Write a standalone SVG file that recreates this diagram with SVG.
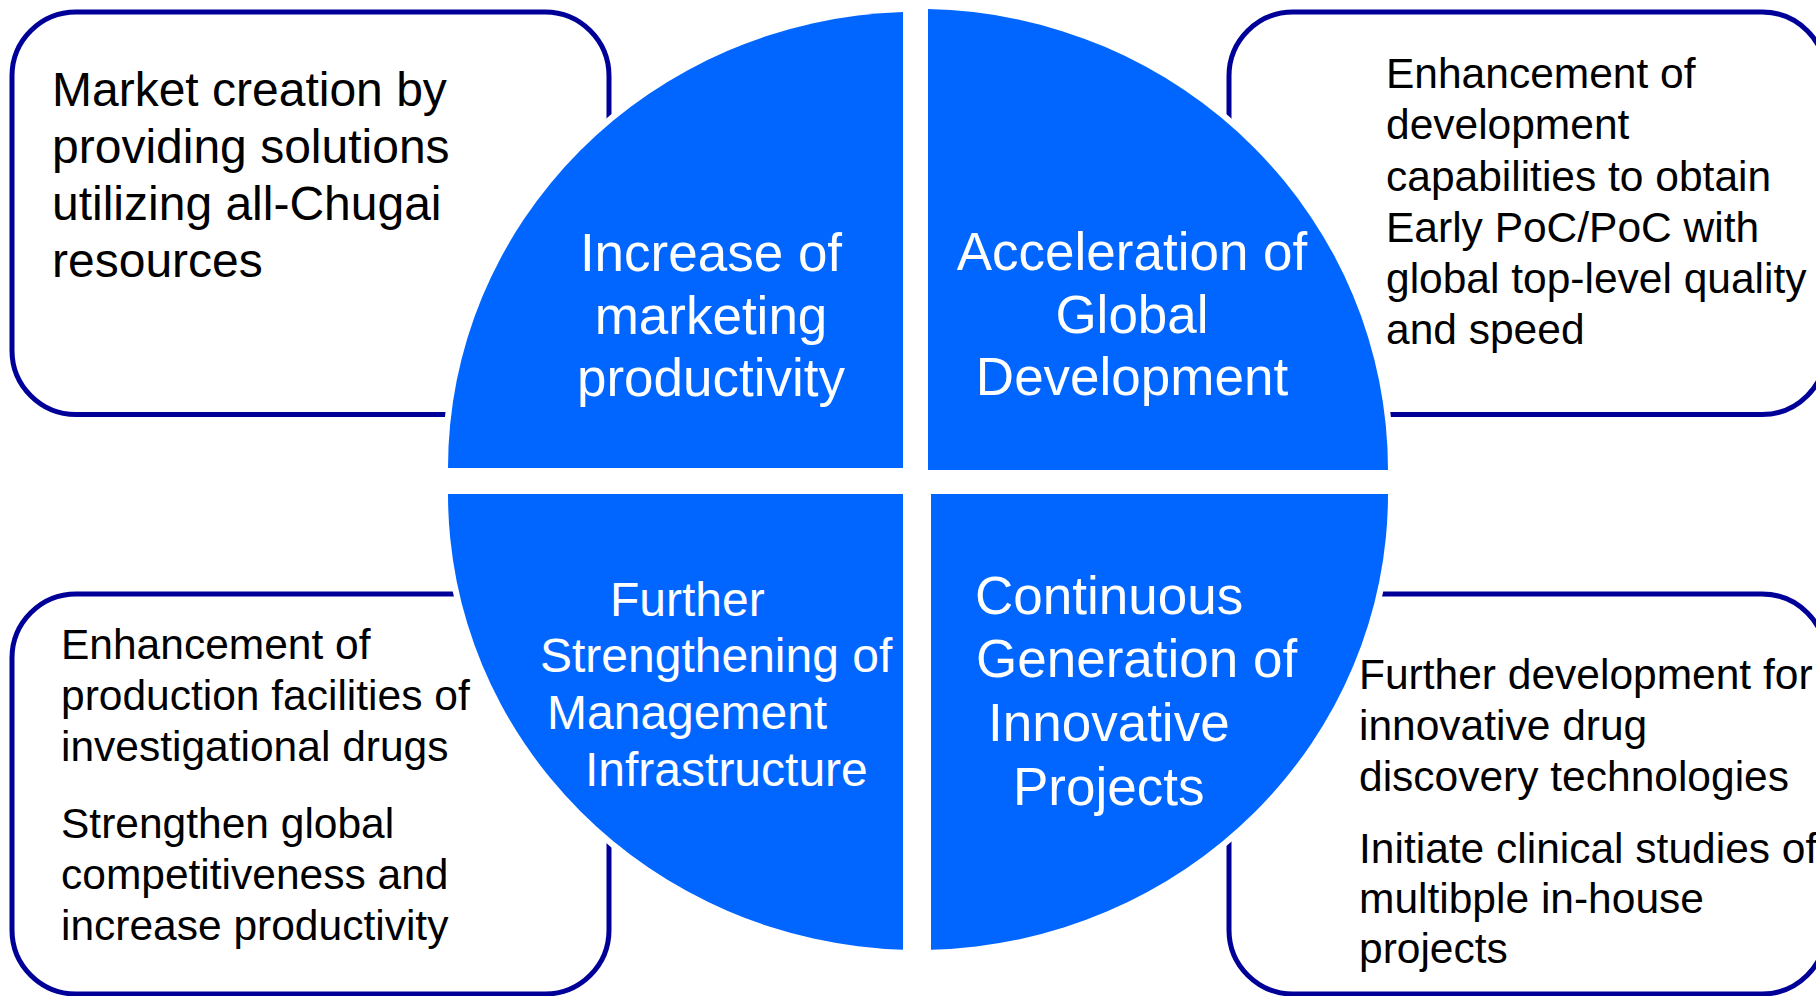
<svg xmlns="http://www.w3.org/2000/svg" width="1816" height="996" viewBox="0 0 1816 996">
<style>
.box{fill:#ffffff;stroke:#000099;stroke-width:5}
.q{fill:#0066ff;stroke:#ffffff;stroke-width:12;paint-order:stroke}
.bt{font-family:"Liberation Sans",Arial,sans-serif;fill:#000000}
.ct{font-family:"Liberation Sans",Arial,sans-serif;fill:#ffffff}
</style>
<rect x="0" y="0" width="1816" height="996" fill="#ffffff"/>
<g id="box-marketing">
<rect class="box" x="12" y="12" width="597" height="402.5" rx="64"/>
<text class="bt" font-size="48"><tspan x="52" y="106">Market creation by</tspan><tspan x="52" y="163">providing solutions</tspan><tspan x="52" y="220">utilizing all-Chugai</tspan><tspan x="52" y="277">resources</tspan></text>
</g>
<g id="box-development">
<rect class="box" x="1229" y="12" width="597" height="402.5" rx="64"/>
<text class="bt" font-size="42.5"><tspan x="1386" y="88">Enhancement of</tspan><tspan x="1386" y="139">development</tspan><tspan x="1386" y="191">capabilities to obtain</tspan><tspan x="1386" y="242">Early PoC/PoC with</tspan><tspan x="1386" y="293">global top-level quality</tspan><tspan x="1386" y="344">and speed</tspan></text>
</g>
<g id="box-management">
<rect class="box" x="12" y="594" width="597" height="400" rx="64"/>
<text class="bt" font-size="42.5"><tspan x="61" y="659">Enhancement of</tspan><tspan x="61" y="710">production facilities of</tspan><tspan x="61" y="761">investigational drugs</tspan><tspan x="61" y="838">Strengthen global</tspan><tspan x="61" y="889">competitiveness and</tspan><tspan x="61" y="940">increase productivity</tspan></text>
</g>
<g id="box-innovation">
<rect class="box" x="1229" y="594" width="597" height="400" rx="64"/>
<text class="bt" font-size="42.5"><tspan x="1359" y="689">Further development for</tspan><tspan x="1359" y="740">innovative drug</tspan><tspan x="1359" y="791">discovery technologies</tspan><tspan x="1359" y="863">Initiate clinical studies of</tspan><tspan x="1359" y="913">multibple in-house</tspan><tspan x="1359" y="963">projects</tspan></text>
</g>
<g id="q-marketing">
<path class="q" d="M903,468 L903,12 A470,456 0 0 0 448,468 Z"/>
<text class="ct" font-size="53" text-anchor="middle"><tspan x="711" y="271">Increase of</tspan><tspan x="711" y="334">marketing</tspan><tspan x="711" y="396">productivity</tspan></text>
</g>
<g id="q-development">
<path class="q" d="M928,470 L928,9 A470,461 0 0 1 1388,470 Z"/>
<text class="ct" font-size="53" text-anchor="middle"><tspan x="1132" y="270">Acceleration of</tspan><tspan x="1132" y="333">Global</tspan><tspan x="1132" y="395">Development</tspan></text>
</g>
<g id="q-management">
<path class="q" d="M903,494 L448,494 A470,456 0 0 0 903,949.8 Z"/>
<text class="ct" font-size="48"><tspan x="610" y="616">Further</tspan><tspan x="540" y="672">Strengthening of</tspan><tspan x="547" y="729">Management</tspan><tspan x="585" y="786">Infrastructure</tspan></text>
</g>
<g id="q-innovation">
<path class="q" d="M931,494 L1388,494 A470,456 0 0 1 931,949.8 Z"/>
<text class="ct" font-size="53"><tspan x="975" y="614">Continuous</tspan><tspan x="976" y="677">Generation of</tspan><tspan x="988" y="741">Innovative</tspan><tspan x="1013" y="805">Projects</tspan></text>
</g>
<g id="connectors"/>
</svg>
